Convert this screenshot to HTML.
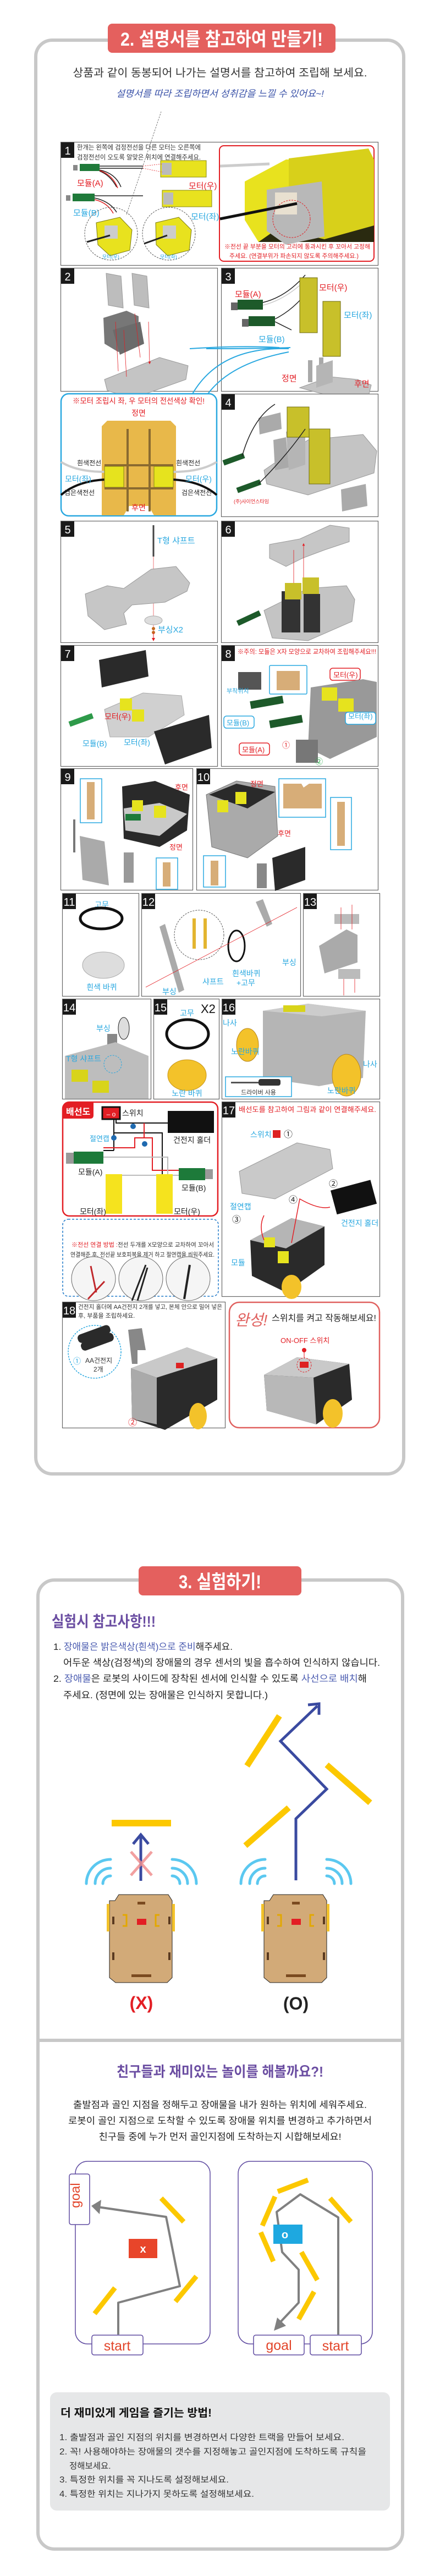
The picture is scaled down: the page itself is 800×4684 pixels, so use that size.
<!DOCTYPE html>
<html><head><meta charset="utf-8">
<style>
html,body{margin:0;padding:0;background:#fff;}
svg{display:block;}
text{font-family:"Liberation Sans","Noto Sans CJK KR",sans-serif;}
.b{font-weight:bold;}
</style></head>
<body>
<svg width="800" height="4684" viewBox="0 0 800 4684" xmlns="http://www.w3.org/2000/svg">
<defs>
<marker id="ar" markerWidth="6" markerHeight="6" refX="3" refY="3" orient="auto"><path d="M0,0 L6,3 L0,6z" fill="#e31e24"/></marker>
<marker id="ag" markerWidth="5" markerHeight="5" refX="2" refY="2.5" orient="auto"><path d="M0,0 L5,2.5 L0,5z" fill="#808080"/></marker>
</defs>

<!-- ========== SECTION 2 ========== -->
<rect x="65" y="73" width="669" height="2607" rx="30" fill="none" stroke="#c8c8c8" stroke-width="6"/>
<rect x="196" y="43" width="414" height="53" rx="8" fill="#e4605e"/>
<text x="403" y="83" text-anchor="middle" font-size="34" class="b" fill="#fff" textLength="368" lengthAdjust="spacingAndGlyphs">2. 설명서를 참고하여 만들기!</text>
<text x="400" y="139" text-anchor="middle" font-size="20" fill="#333" textLength="535" lengthAdjust="spacingAndGlyphs">상품과 같이 동봉되어 나가는 설명서를 참고하여 조립해 보세요.</text>
<text x="400" y="176" text-anchor="middle" font-size="17" font-style="italic" fill="#3a52a8" textLength="378" lengthAdjust="spacingAndGlyphs">설명서를 따라 조립하면서 성취감을 느낄 수 있어요~!</text>

<!-- Step 1 -->
<rect x="110.5" y="258.5" width="577" height="224" fill="#fff" stroke="#666" stroke-width="1.2"/>
<rect x="111" y="259" width="24" height="28" fill="#1a1a1a"/><text x="123" y="281" text-anchor="middle" font-size="20" fill="#fff">1</text>
<text x="140" y="272" font-size="12" fill="#333" textLength="225" lengthAdjust="spacingAndGlyphs">한개는 왼쪽에 검정전선을 다른 모터는 오른쪽에</text>
<text x="140" y="290" font-size="12" fill="#333" textLength="225" lengthAdjust="spacingAndGlyphs">검정전선이 오도록 알맞은 위치에 연결해주세요.</text>
<!-- module A -->
<rect x="133" y="300" width="8" height="10" fill="#888"/><rect x="145" y="298" width="36" height="13" fill="#1f7a3a"/>
<path d="M181,302 L260,302 M181,306 L260,306 M181,309 Q210,315 220,340 M181,311 Q200,318 212,340" stroke="#222" stroke-width="1.5" fill="none"/>
<path d="M181,310 Q205,318 214,342" stroke="#d22" stroke-width="1.5" fill="none"/>
<rect x="292" y="292" width="83" height="30" fill="#e8e21e" stroke="#8a8a10"/><rect x="294" y="296" width="18" height="22" fill="#bbb"/>
<path d="M260,302 L296,298 M260,306 L296,313" stroke="#e31e24" stroke-width="0.8" stroke-dasharray="2,2"/>
<text x="140" y="338" font-size="15" fill="#e31e24">모듈(A)</text>
<text x="343" y="343" font-size="15" fill="#e31e24">모터(우)</text>
<!-- module B -->
<rect x="120" y="355" width="8" height="10" fill="#888"/><rect x="132" y="352" width="40" height="14" fill="#1f7a3a"/>
<path d="M172,356 L260,356 M172,360 Q200,366 212,386" stroke="#222" stroke-width="1.5" fill="none"/>
<path d="M172,363 Q195,368 206,388" stroke="#d22" stroke-width="1.5" fill="none"/>
<rect x="295" y="346" width="90" height="30" fill="#e8e21e" stroke="#8a8a10"/><rect x="297" y="350" width="18" height="22" fill="#bbb"/>
<text x="133" y="392" font-size="15" fill="#29a8e0">모듈(B)</text>
<text x="347" y="399" font-size="15" fill="#29a8e0">모터(좌)</text>
<path d="M230,510 L293,323" stroke="#555" stroke-width="0.8" stroke-dasharray="3,2" transform="translate(0,-120)"/>
<circle cx="202" cy="425" r="48" fill="none" stroke="#555" stroke-dasharray="3,2"/>
<circle cx="307" cy="425" r="48" fill="none" stroke="#555" stroke-dasharray="3,2"/>
<polygon points="175,405 218,395 240,418 236,455 200,465 178,445" fill="#e8e21e" stroke="#7a7a10"/>
<rect x="190" y="410" width="24" height="24" fill="#ccc"/>
<polygon points="283,405 325,395 348,418 344,455 305,465 284,445" fill="#e8e21e" stroke="#7a7a10"/>
<rect x="296" y="410" width="24" height="24" fill="#ccc"/>
<path d="M158,440 L200,428 M262,443 L304,428" stroke="#222" stroke-width="3"/>
<text x="186" y="470" font-size="9" fill="#29a8e0">모터(우)</text><text x="291" y="470" font-size="9" fill="#29a8e0">모터(좌)</text>
<rect x="399" y="265" width="281" height="210" rx="8" fill="#fff" stroke="#e31e24" stroke-width="2"/>
<polygon points="445,330 520,290 680,290 680,440 470,440 445,400" fill="#e8e21e"/>
<polygon points="470,440 520,405 680,405 680,440" fill="#2a2a10"/>
<polygon points="525,288 670,270 680,290 680,410 590,435 525,420" fill="#d8d01a"/>
<polygon points="485,345 585,330 590,430 520,445 485,420" fill="#b8b8b8"/>
<rect x="500" y="350" width="40" height="40" fill="#e8e0d0"/>
<circle cx="530" cy="398" r="34" fill="none" stroke="#e31e24" stroke-dasharray="3,2"/>
<path d="M400,398 L540,370" stroke="#111" stroke-width="5"/><path d="M400,302 L490,298" stroke="#ccc" stroke-width="5"/>
<text x="408" y="452" font-size="11" fill="#e31e24" textLength="265" lengthAdjust="spacingAndGlyphs">※전선 끝 부분을 모터의 고리에 통과시킨 후 꼬아서 고정해</text>
<text x="417" y="469" font-size="11" fill="#e31e24" textLength="235" lengthAdjust="spacingAndGlyphs">주세요. (연결부위가 파손되지 않도록 주의해주세요.)</text>

<!-- Step 2 -->
<rect x="110.5" y="487.5" width="285" height="224" fill="#fff" stroke="#666" stroke-width="1.2"/>
<rect x="111" y="488" width="24" height="28" fill="#1a1a1a"/><text x="123" y="510" text-anchor="middle" font-size="20" fill="#fff">2</text>
<polygon points="193,497 220,502 224,560 197,555" fill="#bdbdbd" stroke="#999"/>
<polygon points="240,497 267,502 271,560 244,555" fill="#bdbdbd" stroke="#999"/>
<polygon points="188,578 230,565 252,575 252,625 215,640 190,625" fill="#777"/>
<polygon points="205,600 255,585 262,625 218,645" fill="#6b6b6b"/>
<polygon points="190,690 290,650 342,665 338,690 240,725 195,710" fill="#c4c4c4" stroke="#999"/>
<path d="M210,585 L215,675 M245,570 L255,650 M225,600 L230,685 M270,585 L272,660" stroke="#e31e24" stroke-width="0.8" marker-end="url(#ar)"/>

<!-- Step 3 -->
<rect x="402.5" y="487.5" width="285" height="224" fill="#fff" stroke="#666" stroke-width="1.2"/>
<rect x="403" y="488" width="24" height="28" fill="#1a1a1a"/><text x="415" y="510" text-anchor="middle" font-size="20" fill="#fff">3</text>
<text x="427" y="540" font-size="15" fill="#e31e24">모듈(A)</text>
<rect x="420" y="550" width="12" height="14" fill="#666"/><rect x="432" y="545" width="46" height="18" fill="#1d5a2a"/>
<rect x="440" y="580" width="12" height="14" fill="#666"/><rect x="452" y="575" width="48" height="18" fill="#1d5a2a"/>
<path d="M478,550 Q520,540 555,500 M500,580 Q540,560 570,515 M500,585 L530,600" stroke="#222" stroke-width="1.5" fill="none"/>
<path d="M478,555 Q520,545 560,505" stroke="#ccc" stroke-width="1.5" fill="none"/>
<text x="470" y="622" font-size="15" fill="#29a8e0">모듈(B)</text>
<rect x="545" y="505" width="32" height="100" fill="#c8c02a" stroke="#6d6a10"/>
<rect x="587" y="548" width="32" height="100" fill="#c8c02a" stroke="#6d6a10"/>
<text x="580" y="528" font-size="15" fill="#e31e24">모터(우)</text>
<text x="625" y="578" font-size="15" fill="#29a8e0">모터(좌)</text>
<polygon points="545,705 600,685 650,690 675,700 670,720 600,720" fill="#c4c4c4" stroke="#999"/>
<rect x="560" y="655" width="8" height="40" fill="#a9a9a9"/><rect x="580" y="650" width="8" height="40" fill="#a9a9a9"/>
<polygon points="575,665 605,655 605,695 575,705" fill="#b5b5b5"/>
<text x="644" y="703" font-size="15" fill="#e31e24">후면</text>
<text x="612" y="693" font-size="15" fill="#e31e24" transform="translate(-100,0)">정면</text>
<path d="M508,714 Q440,710 345,716 M528,714 Q470,716 375,716" stroke="#29a8e0" stroke-width="2" fill="none" transform="translate(0,-82)"/>
<path d="M525,634 Q400,630 350,716 M525,640 Q420,660 378,716" stroke="#29a8e0" stroke-width="2" fill="none"/>

<!-- Callout -->
<rect x="111" y="716" width="283" height="222" rx="14" fill="#fff" stroke="#29a8e0" stroke-width="2.5"/>
<text x="252" y="734" text-anchor="middle" font-size="14" fill="#e31e24" textLength="240" lengthAdjust="spacingAndGlyphs">※모터 조립시 좌, 우 모터의 전선색상 확인!</text>
<text x="252" y="756" text-anchor="middle" font-size="14" fill="#e31e24">정면</text>
<polygon points="185,775 195,765 310,765 320,775 320,937 280,937 270,920 235,920 225,937 185,937" fill="#e8b84a"/>
<path d="M111,840 Q140,858 190,858 M394,840 Q365,858 315,858" stroke="#ccc" stroke-width="4" fill="none"/>
<path d="M111,900 Q140,875 190,872 M394,900 Q365,875 315,872" stroke="#111" stroke-width="4" fill="none"/>
<rect x="190" y="848" width="35" height="38" fill="#e6e31e" stroke="#8a8a10"/>
<rect x="280" y="848" width="35" height="38" fill="#e6e31e" stroke="#8a8a10"/>
<path d="M232,780 L232,930 M272,780 L272,930 M190,846 L315,846 M190,888 L315,888" stroke="#8a6a30" stroke-width="4"/>
<text x="140" y="846" font-size="12" fill="#222">흰색전선</text><text x="320" y="846" font-size="12" fill="#222">흰색전선</text>
<text x="117" y="900" font-size="12" fill="#222">검은색전선</text><text x="330" y="900" font-size="12" fill="#222">검은색전선</text>
<text x="118" y="876" font-size="14" fill="#29a8e0">모터(좌)</text><text x="337" y="876" font-size="14" fill="#29a8e0">모터(우)</text>
<text x="252" y="928" text-anchor="middle" font-size="14" fill="#e31e24">후면</text>

<!-- Step 4 -->
<rect x="402.5" y="716.5" width="285" height="223" fill="#fff" stroke="#666" stroke-width="1.2"/>
<rect x="403" y="717" width="24" height="28" fill="#1a1a1a"/><text x="415" y="739" text-anchor="middle" font-size="20" fill="#fff">4</text>
<polygon points="480,855 560,800 660,790 685,820 680,860 560,900 485,880" fill="#c4c4c4" stroke="#999"/>
<polygon points="497,800 520,795 525,850 500,855" fill="#a9a9a9"/>
<polygon points="520,785 555,775 555,845 525,855" fill="#b5b5b5"/>
<polygon points="470,760 510,750 512,780 472,790" fill="#aaa"/>
<polygon points="620,890 665,880 668,920 622,930" fill="#aaa"/>
<rect x="522" y="740" width="40" height="55" fill="#c8c02a" stroke="#6d6a10"/>
<rect x="562" y="780" width="38" height="100" fill="#c8c02a" stroke="#6d6a10"/>
<rect x="405" y="830" width="40" height="10" fill="#1d5a2a" transform="rotate(-20 425 835)"/>
<rect x="430" y="880" width="45" height="10" fill="#1d5a2a" transform="rotate(-20 450 885)"/>
<path d="M440,830 Q460,760 500,735 M470,880 Q520,830 555,780" stroke="#222" stroke-width="1.5" fill="none"/>
<text x="425" y="915" font-size="9" fill="#e31e24">(주)사이언스타임</text>

<!-- Step 5 -->
<rect x="110.5" y="947.5" width="285" height="221" fill="#fff" stroke="#666" stroke-width="1.2"/>
<rect x="111" y="948" width="24" height="28" fill="#1a1a1a"/><text x="123" y="970" text-anchor="middle" font-size="20" fill="#fff">5</text>
<line x1="279" y1="955" x2="279" y2="1012" stroke="#444" stroke-width="3"/>
<line x1="279" y1="1012" x2="279" y2="1160" stroke="#e31e24" stroke-width="0.6"/>
<text x="286" y="988" font-size="15" fill="#29a8e0">T형 샤프트</text>
<polygon points="155,1080 195,1065 225,1070 275,1035 320,1030 345,1060 340,1075 300,1095 240,1100 225,1115 230,1135 190,1145 160,1120" fill="#c6c6c6" stroke="#999"/>
<ellipse cx="279" cy="1128" rx="16" ry="8" fill="#ddd" stroke="#aaa"/>
<circle cx="279" cy="1143" r="3" fill="#c46a20"/><circle cx="279" cy="1150" r="3" fill="#c46a20"/>
<text x="287" y="1150" font-size="15" fill="#29a8e0">부싱X2</text>
<path d="M279,1150 L279,1163" stroke="#e31e24" marker-end="url(#ar)"/>

<!-- Step 6 -->
<rect x="402.5" y="947.5" width="285" height="221" fill="#fff" stroke="#666" stroke-width="1.2"/>
<rect x="403" y="948" width="24" height="28" fill="#1a1a1a"/><text x="415" y="970" text-anchor="middle" font-size="20" fill="#fff">6</text>
<polygon points="490,990 545,980 600,955 635,960 635,985 590,1000 550,1015 520,1030 490,1015" fill="#c6c6c6" stroke="#999"/>
<polygon points="480,1110 560,1070 630,1065 645,1090 640,1130 560,1165 495,1160" fill="#c4c4c4" stroke="#999"/>
<rect x="512" y="1075" width="34" height="75" fill="#333"/><rect x="552" y="1080" width="30" height="70" fill="#333"/>
<rect x="518" y="1060" width="30" height="30" fill="#c8c02a"/><rect x="550" y="1050" width="30" height="30" fill="#c8c02a"/>
<path d="M534,1060 L534,1000 M552,1050 L552,990" stroke="#e31e24" stroke-width="0.8" marker-end="url(#ar)"/>
<rect x="430" y="1120" width="45" height="10" fill="#1d5a2a" transform="rotate(-25 450 1125)"/>

<!-- Step 7 -->
<rect x="110.5" y="1173.5" width="285" height="220" fill="#fff" stroke="#666" stroke-width="1.2"/>
<rect x="111" y="1174" width="24" height="28" fill="#1a1a1a"/><text x="123" y="1196" text-anchor="middle" font-size="20" fill="#fff">7</text>
<polygon points="180,1200 265,1182 270,1230 185,1250" fill="#2a2a2a"/>
<polygon points="190,1290 260,1260 330,1265 335,1300 270,1340 200,1340" fill="#d0d0d0" stroke="#aaa"/>
<polygon points="280,1330 380,1300 385,1360 300,1390" fill="#2a2a2a"/>
<rect x="218" y="1270" width="22" height="22" fill="#e6e31e"/><rect x="240" y="1290" width="22" height="22" fill="#e6e31e"/>
<rect x="125" y="1305" width="45" height="10" fill="#2e9a4a" transform="rotate(-20 145 1310)"/>
<text x="190" y="1308" font-size="14" fill="#e31e24">모터(우)</text>
<text x="150" y="1357" font-size="14" fill="#29a8e0">모듈(B)</text>
<text x="225" y="1355" font-size="14" fill="#29a8e0">모터(좌)</text>

<!-- Step 8 -->
<rect x="402.5" y="1173.5" width="285" height="220" fill="#fff" stroke="#666" stroke-width="1.2"/>
<rect x="403" y="1174" width="24" height="28" fill="#1a1a1a"/><text x="415" y="1196" text-anchor="middle" font-size="20" fill="#fff">8</text>
<text x="432" y="1189" font-size="12" fill="#e31e24" textLength="252" lengthAdjust="spacingAndGlyphs">※주의: 모듈은 X자 모양으로 교차하여 조립해주세요!!!</text>
<rect x="490" y="1210" width="68" height="52" rx="2" fill="#fff" stroke="#29a8e0" stroke-width="1.5"/>
<rect x="503" y="1220" width="42" height="35" fill="#d7ad78"/>
<rect x="433" y="1222" width="42" height="32" fill="#555"/>
<text x="412" y="1260" font-size="11" fill="#29a8e0">부착위치</text>
<rect x="600" y="1215" width="55" height="22" rx="5" fill="#fff" stroke="#e31e24" stroke-width="1.5"/><text x="606" y="1232" font-size="13" fill="#e31e24">모터(우)</text>
<polygon points="565,1250 660,1235 685,1240 685,1340 600,1380 560,1360" fill="#999"/>
<rect x="585" y="1250" width="28" height="24" fill="#e6e31e"/><rect x="615" y="1270" width="28" height="24" fill="#e6e31e"/>
<rect x="455" y="1270" width="60" height="14" fill="#1d5a2a" transform="rotate(-10 485 1277)"/>
<rect x="490" y="1305" width="60" height="14" fill="#1d5a2a" transform="rotate(-10 520 1312)"/>
<rect x="407" y="1302" width="55" height="22" rx="5" fill="#fff" stroke="#29a8e0" stroke-width="1.5"/><text x="412" y="1319" font-size="13" fill="#29a8e0">모듈(B)</text>
<rect x="435" y="1351" width="55" height="22" rx="5" fill="#fff" stroke="#e31e24" stroke-width="1.5"/><text x="440" y="1368" font-size="13" fill="#e31e24">모듈(A)</text>
<rect x="628" y="1295" width="55" height="22" rx="5" fill="#fff" stroke="#29a8e0" stroke-width="1.5"/><text x="633" y="1307" font-size="13" fill="#29a8e0">모터(좌)</text>
<rect x="538" y="1345" width="40" height="42" fill="#777"/>
<text x="513" y="1360" font-size="14" fill="#e31e24">①</text><text x="573" y="1390" font-size="14" fill="#2ab04a">②</text>

<!-- Step 9 -->
<rect x="110.5" y="1397.5" width="240" height="221" fill="#fff" stroke="#666" stroke-width="1.2"/>
<rect x="111" y="1398" width="24" height="28" fill="#1a1a1a"/><text x="123" y="1420" text-anchor="middle" font-size="20" fill="#fff">9</text>
<rect x="146" y="1416" width="39" height="80" fill="#fff" stroke="#29a8e0" stroke-width="1.5"/>
<rect x="158" y="1422" width="14" height="68" fill="#d7ad78"/>
<polygon points="222,1430 282,1420 345,1445 340,1510 290,1540 225,1525" fill="#2a2a2a"/>
<polygon points="225,1470 290,1460 340,1480 290,1520 228,1510" fill="#c9c9c9"/>
<rect x="240" y="1455" width="20" height="20" fill="#e6e31e"/><rect x="280" y="1465" width="22" height="22" fill="#e6e31e"/>
<rect x="228" y="1480" width="28" height="12" fill="#1d7a3a"/>
<polygon points="145,1520 190,1530 198,1610 150,1600" fill="#aaa"/>
<rect x="133" y="1490" width="4" height="60" fill="#777"/>
<rect x="225" y="1550" width="18" height="55" fill="#999"/>
<rect x="284" y="1560" width="39" height="57" fill="#fff" stroke="#29a8e0" stroke-width="1.5"/>
<rect x="296" y="1568" width="14" height="44" fill="#d7ad78"/>
<text x="318" y="1436" font-size="13" fill="#e31e24">후면</text><text x="308" y="1545" font-size="13" fill="#e31e24">정면</text>

<!-- Step 10 -->
<rect x="357.5" y="1397.5" width="330" height="221" fill="#fff" stroke="#666" stroke-width="1.2"/>
<rect x="358" y="1398" width="24" height="28" fill="#1a1a1a"/><text x="370" y="1420" text-anchor="middle" font-size="20" fill="#fff">10</text>
<polygon points="375,1445 430,1420 500,1430 505,1520 450,1560 385,1540" fill="#aaa" stroke="#777"/>
<polygon points="380,1445 430,1425 500,1440 450,1470" fill="#2a2a2a"/>
<rect x="395" y="1455" width="20" height="22" fill="#e6e31e"/><rect x="428" y="1440" width="20" height="22" fill="#e6e31e"/>
<text x="455" y="1430" font-size="13" fill="#e31e24">정면</text><text x="505" y="1520" font-size="13" fill="#e31e24">후면</text>
<rect x="507" y="1416" width="85" height="70" fill="#fff" stroke="#29a8e0" stroke-width="1.5"/>
<polygon points="515,1425 548,1425 552,1432 562,1425 585,1425 585,1470 515,1470" fill="#d7ad78"/>
<rect x="601" y="1450" width="38" height="95" fill="#fff" stroke="#29a8e0" stroke-width="1.5"/>
<rect x="613" y="1458" width="14" height="80" fill="#d7ad78"/>
<rect x="370" y="1556" width="40" height="57" fill="#fff" stroke="#29a8e0" stroke-width="1.5"/>
<rect x="383" y="1565" width="14" height="45" fill="#d7ad78"/>
<polygon points="495,1560 555,1540 555,1600 500,1620" fill="#2a2a2a"/>
<rect x="467" y="1570" width="18" height="45" fill="#888"/>

<!-- 11,12,13 -->
<rect x="113.5" y="1624.5" width="139" height="187" fill="#fff" stroke="#666" stroke-width="1.2"/>
<rect x="114" y="1625" width="24" height="28" fill="#1a1a1a"/><text x="126" y="1647" text-anchor="middle" font-size="20" fill="#fff">11</text>
<text x="185" y="1650" text-anchor="middle" font-size="14" fill="#29a8e0">고무</text>
<ellipse cx="184" cy="1670" rx="38" ry="19" fill="none" stroke="#111" stroke-width="5"/>
<ellipse cx="188" cy="1755" rx="38" ry="24" fill="#ddd" stroke="#aaa"/>
<text x="185" y="1800" text-anchor="middle" font-size="14" fill="#29a8e0">흰색 바퀴</text>
<rect x="257.5" y="1624.5" width="289" height="187" fill="#fff" stroke="#666" stroke-width="1.2"/>
<rect x="258" y="1625" width="24" height="28" fill="#1a1a1a"/><text x="270" y="1647" text-anchor="middle" font-size="20" fill="#fff">12</text>
<circle cx="362" cy="1700" r="45" fill="none" stroke="#555" stroke-dasharray="3,2"/>
<rect x="350" y="1670" width="6" height="55" fill="#e3b530"/><rect x="370" y="1670" width="6" height="55" fill="#e3b530"/>
<polygon points="290,1735 300,1730 335,1850 325,1855" fill="#aaa" transform="translate(0,-50)"/>
<polygon points="465,1640 478,1635 495,1680 485,1685" fill="#aaa"/>
<ellipse cx="430" cy="1720" rx="15" ry="28" fill="#fff" stroke="#111" stroke-width="3"/>
<line x1="265" y1="1795" x2="540" y2="1650" stroke="#e31e24" stroke-width="0.8"/>
<text x="368" y="1790" font-size="14" fill="#29a8e0">샤프트</text>
<text x="422" y="1775" font-size="14" fill="#29a8e0">흰색바퀴</text><text x="430" y="1792" font-size="14" fill="#29a8e0">+고무</text>
<text x="295" y="1808" font-size="14" fill="#29a8e0">부싱</text><text x="513" y="1755" font-size="14" fill="#29a8e0">부싱</text>
<rect x="551.5" y="1624.5" width="139" height="187" fill="#fff" stroke="#666" stroke-width="1.2"/>
<rect x="552" y="1625" width="24" height="28" fill="#1a1a1a"/><text x="564" y="1647" text-anchor="middle" font-size="20" fill="#fff">13</text>
<rect x="608" y="1662" width="45" height="18" fill="#bbb"/>
<polygon points="580,1720 630,1690 650,1700 650,1750 590,1770" fill="#aaa"/>
<rect x="615" y="1762" width="40" height="18" fill="#bbb"/>
<path d="M620,1690 L620,1650 M640,1690 L640,1645 M625,1780 L625,1810 M645,1780 L645,1805" stroke="#e31e24" stroke-width="0.8"/>

<!-- 14,15,16 -->
<rect x="113.5" y="1816.5" width="161" height="182" fill="#fff" stroke="#666" stroke-width="1.2"/>
<rect x="114" y="1817" width="24" height="28" fill="#1a1a1a"/><text x="126" y="1839" text-anchor="middle" font-size="20" fill="#fff">14</text>
<text x="175" y="1875" font-size="14" fill="#29a8e0">부싱</text>
<rect x="195" y="1880" width="18" height="40" fill="#888"/>
<ellipse cx="225" cy="1870" rx="10" ry="20" fill="#ddd" stroke="#222"/>
<polygon points="118,1920 210,1895 270,1920 270,1998 118,1998" fill="#bdbdbd"/>
<rect x="130" y="1945" width="30" height="22" fill="#d8d41a"/><rect x="168" y="1965" width="30" height="22" fill="#d8d41a"/>
<circle cx="205" cy="1935" r="16" fill="none" stroke="#29a8e0" stroke-dasharray="3,2"/>
<text x="120" y="1930" font-size="14" fill="#29a8e0">T형 샤프트</text>
<rect x="279.5" y="1816.5" width="119" height="182" fill="#fff" stroke="#666" stroke-width="1.2"/>
<rect x="280" y="1817" width="24" height="28" fill="#1a1a1a"/><text x="292" y="1839" text-anchor="middle" font-size="20" fill="#fff">15</text>
<text x="365" y="1842" font-size="22" fill="#111">X2</text>
<text x="340" y="1847" text-anchor="middle" font-size="14" fill="#29a8e0">고무</text>
<ellipse cx="341" cy="1880" rx="38" ry="26" fill="none" stroke="#111" stroke-width="5"/>
<ellipse cx="340" cy="1955" rx="35" ry="28" fill="#f3c22a" stroke="#c8961a"/>
<text x="340" y="1993" text-anchor="middle" font-size="14" fill="#29a8e0">노란 바퀴</text>
<rect x="403.5" y="1816.5" width="287" height="182" fill="#fff" stroke="#666" stroke-width="1.2"/>
<rect x="404" y="1817" width="24" height="28" fill="#1a1a1a"/><text x="416" y="1839" text-anchor="middle" font-size="20" fill="#fff">16</text>
<polygon points="478,1838 560,1825 665,1838 660,1960 580,1975 478,1960" fill="#b5b5b5"/>
<polygon points="478,1838 560,1825 665,1838 585,1848" fill="#ccc"/>
<rect x="515" y="1828" width="40" height="12" fill="#d8d41a"/>
<ellipse cx="450" cy="1900" rx="20" ry="30" fill="#f3c22a" stroke="#b8861a"/>
<ellipse cx="630" cy="1955" rx="26" ry="38" fill="#f3c22a" stroke="#b8861a"/>
<text x="405" y="1960" font-size="14" fill="#29a8e0" transform="translate(0,-95)">나사</text>
<text x="420" y="1924" font-size="14" fill="#29a8e0" transform="translate(0,-7)">노란바퀴</text>
<text x="660" y="1940" font-size="14" fill="#29a8e0">나사</text>
<text x="595" y="1988" font-size="14" fill="#29a8e0">노란바퀴</text>
<rect x="410" y="1958" width="120" height="36" fill="#fff" stroke="#29a8e0" stroke-width="1.5"/>
<rect x="420" y="1967" width="50" height="3" fill="#555"/><rect x="470" y="1962" width="40" height="12" rx="4" fill="#333"/>
<text x="470" y="1990" text-anchor="middle" font-size="11" fill="#333">드라이버 사용</text>

<!-- Wiring diagram -->
<rect x="114" y="2004" width="282" height="207" rx="12" fill="#fff" stroke="#e31e24" stroke-width="2.5"/>
<path d="M114,2016 Q114,2004 126,2004 L170,2004 L170,2028 Q170,2034 164,2034 L114,2034z" fill="#e31e24"/>
<text x="120" y="2027" font-size="16" class="b" fill="#fff">배선도</text>
<rect x="186" y="2013" width="32" height="22" fill="#e31e24" stroke="#111" stroke-width="3"/>
<text x="202" y="2030" text-anchor="middle" font-size="12" fill="#fff">– o</text>
<text x="222" y="2029" font-size="14" fill="#222">스위치</text>
<rect x="305" y="2020" width="84" height="40" fill="#111"/>
<text x="315" y="2078" font-size="14" fill="#222">건전지 홀더</text>
<path d="M207,2035 L207,2092 M211,2035 L211,2042 L305,2042 M207,2060 L295,2060 L295,2160 M207,2092 L188,2092" stroke="#111" stroke-width="2" fill="none"/>
<path d="M262,2042 L262,2069 L245,2069 L245,2087 L188,2087 M262,2069 L277,2069 L277,2128 L325,2128" stroke="#e31e24" stroke-width="2" fill="none"/>
<path d="M188,2104 L305,2104 L305,2163 M200,2137 L325,2137 M215,2143 L215,2163 M200,2143 L200,2163" stroke="#bbb" stroke-width="2" fill="none"/>
<circle cx="242" cy="2048" r="5" fill="#1f6ab0"/><circle cx="207" cy="2069" r="5" fill="#1f6ab0"/><circle cx="263" cy="2080" r="5" fill="#1f6ab0"/>
<text x="163" y="2075" font-size="13" fill="#29a8e0">절연캡</text>
<rect x="120" y="2096" width="14" height="20" fill="#999"/><rect x="134" y="2094" width="54" height="22" fill="#1d7a3a"/>
<text x="142" y="2136" font-size="14" fill="#222">모듈(A)</text>
<rect x="325" y="2124" width="48" height="22" fill="#1d7a3a"/><rect x="373" y="2126" width="14" height="18" fill="#999"/>
<text x="330" y="2165" font-size="14" fill="#222">모듈(B)</text>
<rect x="192" y="2163" width="30" height="72" fill="#f5e31e" transform="translate(0,-28)"/>
<rect x="284" y="2163" width="30" height="72" fill="#f5e31e" transform="translate(0,-28)"/>
<text x="145" y="2228" font-size="14" fill="#222" transform="translate(0,-20)">모터(좌)</text>
<text x="316" y="2228" font-size="14" fill="#222" transform="translate(0,-20)">모터(우)</text>

<!-- dotted blue -->
<rect x="114" y="2217" width="283" height="140" rx="10" fill="#fff" stroke="#1f78c8" stroke-width="1.5" stroke-dasharray="4,3"/>
<text x="130" y="2267" font-size="11" fill="#e31e24">※전선 연결 방법 :</text>
<text x="214" y="2267" font-size="11" fill="#333" textLength="175" lengthAdjust="spacingAndGlyphs">전선 두개를 X모양으로 교차하여 꼬아서</text>
<text x="128" y="2285" font-size="11" fill="#333" textLength="262" lengthAdjust="spacingAndGlyphs">연결해준 후, 전선끝 보호피복을 제거 하고 절연캡을 씌워주세요.</text>
<circle cx="170" cy="2347" r="40" fill="#f5f5f5" stroke="#666" transform="translate(0,-22)"/>
<circle cx="256" cy="2347" r="40" fill="#f5f5f5" stroke="#666" transform="translate(0,-22)"/>
<circle cx="342" cy="2347" r="40" fill="#f5f5f5" stroke="#666" transform="translate(0,-22)"/>
<path d="M165,2302 L175,2350 M190,2330 L160,2362" stroke="#c0282c" stroke-width="3"/>
<path d="M265,2300 L240,2365 M268,2305 L250,2365" stroke="#222" stroke-width="3"/>
<path d="M345,2300 L335,2362" stroke="#222" stroke-width="4"/>

<!-- Step 17 -->
<rect x="403.5" y="2003.5" width="287" height="354" fill="#fff" stroke="#666" stroke-width="1.2"/>
<rect x="404" y="2004" width="24" height="28" fill="#1a1a1a"/><text x="416" y="2026" text-anchor="middle" font-size="20" fill="#fff">17</text>
<text x="434" y="2022" font-size="13" fill="#e31e24" textLength="250" lengthAdjust="spacingAndGlyphs">배선도를 참고하여 그림과 같이 연결해주세요.</text>
<text x="455" y="2068" font-size="14" fill="#29a8e0">스위치</text>
<rect x="496" y="2055" width="14" height="14" fill="#d22"/>
<text x="516" y="2068" font-size="16" fill="#222">①</text>
<polygon points="435,2130 540,2078 600,2090 605,2125 500,2180 440,2170" fill="#c9c9c9" stroke="#999"/>
<rect x="605" y="2155" width="75" height="45" fill="#111" transform="rotate(-15 640 2175)"/>
<text x="598" y="2158" font-size="16" fill="#222">②</text><text x="525" y="2187" font-size="16" fill="#222">④</text>
<text x="422" y="2223" font-size="16" fill="#222">③</text>
<text x="418" y="2199" font-size="14" fill="#29a8e0">절연캡</text>
<text x="620" y="2229" font-size="14" fill="#29a8e0">건전지 홀더</text>
<text x="420" y="2301" font-size="14" fill="#29a8e0">모듈</text>
<polygon points="455,2255 530,2215 590,2230 590,2300 520,2350 458,2320" fill="#2a2a2a"/>
<polygon points="455,2255 530,2215 590,2230 520,2270" fill="#b5b5b5"/>
<rect x="480" y="2250" width="20" height="18" fill="#e6e31e"/><rect x="505" y="2275" width="20" height="22" fill="#e6e31e"/>
<ellipse cx="530" cy="2345" rx="18" ry="22" fill="#f3c22a" transform="translate(0,-5)"/>
<path d="M600,2195 Q580,2200 545,2180 L530,2260 M480,2210 Q470,2230 480,2255" stroke="#e31e24" stroke-width="1.5" fill="none"/>

<!-- Step 18 -->
<rect x="113.5" y="2367.5" width="296" height="229" fill="#fff" stroke="#666" stroke-width="1.2"/>
<rect x="114" y="2368" width="24" height="28" fill="#1a1a1a"/><text x="126" y="2390" text-anchor="middle" font-size="20" fill="#fff">18</text>
<text x="142" y="2380" font-size="11" fill="#333" textLength="262" lengthAdjust="spacingAndGlyphs">건전지 홀더에 AA건전지 2개를 넣고, 본체 안으로 밀어 넣은</text>
<text x="142" y="2396" font-size="11" fill="#333">후, 부품을 조립하세요.</text>
<circle cx="172" cy="2458" r="48" fill="none" stroke="#29a8e0" stroke-width="1.5" stroke-dasharray="3,2"/>
<rect x="140" y="2418" width="62" height="16" rx="7" fill="#2a2a2a" transform="rotate(-20 170 2426)"/>
<rect x="146" y="2432" width="62" height="16" rx="7" fill="#2a2a2a" transform="rotate(-20 176 2440)"/>
<text x="133" y="2480" font-size="14" fill="#29a8e0">①</text><text x="155" y="2478" font-size="12" fill="#333">AA건전지</text>
<text x="170" y="2494" font-size="12" fill="#333">2개</text>
<polygon points="238,2488 340,2450 395,2470 395,2545 300,2600 240,2580" fill="#2a2a2a"/>
<polygon points="238,2488 340,2450 395,2470 285,2505" fill="#c9c9c9"/>
<polygon points="238,2488 285,2505 285,2590 240,2580" fill="#aaa"/>
<rect x="320" y="2478" width="14" height="10" fill="#d22"/>
<polygon points="233,2438 258,2435 265,2475 250,2475 250,2500 240,2500" fill="#888" transform="translate(0,-20)"/>
<ellipse cx="360" cy="2575" rx="16" ry="24" fill="#f3c22a"/>
<text x="233" y="2602" font-size="16" fill="#e31e24" transform="translate(0,-10)">②</text>

<!-- 완성 -->
<rect x="417" y="2368" width="273" height="228" rx="18" fill="#fff" stroke="#e0605e" stroke-width="2.5"/>
<text x="427" y="2410" font-size="28" font-style="italic" fill="#e0605e">완성!</text>
<text x="494" y="2402" font-size="16" fill="#222">스위치를 켜고 작동해보세요!</text>
<text x="510" y="2490" font-size="13" fill="#e31e24" transform="translate(0,-48)">ON-OFF 스위치</text>
<circle cx="553" cy="2455" r="4" fill="#e31e24"/><line x1="553" y1="2455" x2="553" y2="2472" stroke="#e31e24"/>
<polygon points="480,2500 540,2468 635,2480 640,2545 575,2590 485,2565" fill="#2a2a2a"/>
<polygon points="480,2500 540,2468 635,2480 570,2505" fill="#c9c9c9"/>
<polygon points="480,2500 570,2505 575,2590 485,2565" fill="#b8b8b8"/>
<circle cx="553" cy="2482" r="13" fill="none" stroke="#e31e24" stroke-dasharray="3,2"/>
<rect x="545" y="2476" width="16" height="11" fill="#d22"/>
<ellipse cx="605" cy="2570" rx="18" ry="26" fill="#f3c22a"/>

<!-- ========== SECTION 3 ========== -->
<rect x="69" y="2873" width="663" height="1762" rx="30" fill="none" stroke="#c8c8c8" stroke-width="6"/>
<rect x="252" y="2848" width="296" height="53" rx="8" fill="#e4605e"/>
<text x="400" y="2888" text-anchor="middle" font-size="34" class="b" fill="#fff" textLength="150" lengthAdjust="spacingAndGlyphs">3. 실험하기!</text>

<text x="94" y="2958" font-size="28" class="b" fill="#6b4ea2" textLength="189" lengthAdjust="spacingAndGlyphs">실험시 참고사항!!!</text>
<text x="97" y="3000" font-size="17" fill="#222">1. <tspan fill="#4a5bb0">장애물은 밝은색상(흰색)으로 준비</tspan>해주세요.</text>
<text x="115" y="3029" font-size="17" fill="#222" textLength="576" lengthAdjust="spacingAndGlyphs">어두운 색상(검정색)의 장애물의 경우 센서의 빛을 흡수하여 인식하지 않습니다.</text>
<text x="97" y="3058" font-size="17" fill="#222" textLength="570" lengthAdjust="spacingAndGlyphs">2. <tspan fill="#4a5bb0">장애물</tspan>은 로봇의 사이드에 장착된 센서에 인식할 수 있도록 <tspan fill="#4a5bb0">사선으로 배치</tspan>해</text>
<text x="115" y="3088" font-size="17" fill="#222" textLength="372" lengthAdjust="spacingAndGlyphs">주세요. (정면에 있는 장애물은 인식하지 못합니다.)</text>

<!-- Left robot diagram -->
<rect x="203" y="3309" width="108" height="12" fill="#fcc800"/>
<path d="M256,3420 L256,3340" stroke="#3a4aa0" stroke-width="5"/>
<path d="M242,3353 L256,3336 L270,3353" stroke="#3a4aa0" stroke-width="5" fill="none"/>
<path d="M238,3367 L276,3410 M276,3367 L238,3410" stroke="#f09090" stroke-width="5" opacity="0.85"/>
<!-- Right robot path -->
<path d="M538,3419 L538,3307 L594,3253 L510,3166 L577,3102" stroke="#3a4aa0" stroke-width="5" fill="none" stroke-linejoin="miter"/>
<path d="M560,3100 L580,3098 L580,3118" stroke="#3a4aa0" stroke-width="5" fill="none"/>
<path d="M508,3120 L449,3211 M594,3209 L673,3278 M525,3287 L446,3356" stroke="#fcc800" stroke-width="11"/>

<!-- Wifi arcs -->
<g fill="none" stroke="#5bc8f0" stroke-width="5" stroke-linecap="round">
<path d="M187,3425 A14,14 0 0 1 201,3411"/><path d="M173,3425 A28,28 0 0 1 201,3397"/><path d="M157,3425 A44,44 0 0 1 201,3381"/>
<path d="M327,3425 A14,14 0 0 0 313,3411"/><path d="M341,3425 A28,28 0 0 0 313,3397"/><path d="M357,3425 A44,44 0 0 0 313,3381"/>
<path d="M468,3425 A14,14 0 0 1 482,3411"/><path d="M454,3425 A28,28 0 0 1 482,3397"/><path d="M438,3425 A44,44 0 0 1 482,3381"/>
<path d="M608,3425 A14,14 0 0 0 594,3411"/><path d="M622,3425 A28,28 0 0 0 594,3397"/><path d="M638,3425 A44,44 0 0 0 594,3381"/>
</g>

<!-- robots -->
<g>
<polygon points="211,3456 219,3456" stroke="#333"/>
<polygon points="209,3456 216,3445 306,3445 313,3456 313,3596 304,3605 210,3605 199,3596 199,3456" fill="#d2aa78" stroke="#222" stroke-width="1"/>
<rect x="194" y="3462" width="5" height="50" fill="#f3c22a"/><rect x="313" y="3462" width="5" height="50" fill="#f3c22a"/>
<rect x="250" y="3458" width="14" height="5" fill="#7a4a20"/><rect x="239" y="3590" width="36" height="5" fill="#7a4a20"/>
<rect x="204" y="3485" width="4" height="14" fill="#5a3a20"/><rect x="306" y="3485" width="4" height="14" fill="#5a3a20"/>
<rect x="204" y="3550" width="4" height="14" fill="#5a3a20"/><rect x="306" y="3550" width="4" height="14" fill="#5a3a20"/>
<path d="M223,3482 L230,3482 L230,3502 L223,3502" stroke="#e3a800" stroke-width="3" fill="none"/>
<path d="M290,3482 L283,3482 L283,3502 L290,3502" stroke="#e3a800" stroke-width="3" fill="none"/>
<rect x="249" y="3489" width="17" height="11" fill="#e31e24"/>
</g>
<g transform="translate(281,0)">
<polygon points="209,3456 216,3445 306,3445 313,3456 313,3596 304,3605 210,3605 199,3596 199,3456" fill="#d2aa78" stroke="#222" stroke-width="1"/>
<rect x="194" y="3462" width="5" height="50" fill="#f3c22a"/><rect x="313" y="3462" width="5" height="50" fill="#f3c22a"/>
<rect x="250" y="3458" width="14" height="5" fill="#7a4a20"/><rect x="239" y="3590" width="36" height="5" fill="#7a4a20"/>
<rect x="204" y="3485" width="4" height="14" fill="#5a3a20"/><rect x="306" y="3485" width="4" height="14" fill="#5a3a20"/>
<rect x="204" y="3550" width="4" height="14" fill="#5a3a20"/><rect x="306" y="3550" width="4" height="14" fill="#5a3a20"/>
<path d="M223,3482 L230,3482 L230,3502 L223,3502" stroke="#e3a800" stroke-width="3" fill="none"/>
<path d="M290,3482 L283,3482 L283,3502 L290,3502" stroke="#e3a800" stroke-width="3" fill="none"/>
<rect x="249" y="3489" width="17" height="11" fill="#e31e24"/>
</g>
<text x="257" y="3653" text-anchor="middle" font-size="32" class="b" fill="#e31e24">(X)</text>
<text x="538" y="3654" text-anchor="middle" font-size="32" class="b" fill="#222">(O)</text>

<line x1="69" y1="3710" x2="732" y2="3710" stroke="#c8c8c8" stroke-width="6"/>

<text x="400" y="3776" text-anchor="middle" font-size="26" class="b" fill="#6b4ea2" textLength="376" lengthAdjust="spacingAndGlyphs">친구들과 재미있는 놀이를 해볼까요?!</text>
<text x="400" y="3833" text-anchor="middle" font-size="17" fill="#222" textLength="534" lengthAdjust="spacingAndGlyphs">출발점과 골인 지점을 정해두고 장애물을 내가 원하는 위치에 세워주세요.</text>
<text x="400" y="3862" text-anchor="middle" font-size="17" fill="#222" textLength="552" lengthAdjust="spacingAndGlyphs">로봇이 골인 지점으로 도착할 수 있도록 장애물 위치를 변경하고 추가하면서</text>
<text x="400" y="3891" text-anchor="middle" font-size="17" fill="#222" textLength="441" lengthAdjust="spacingAndGlyphs">친구들 중에 누가 먼저 골인지점에 도착하는지 시합해보세요!</text>

<!-- boards -->
<rect x="137" y="3930" width="245" height="332" rx="22" fill="none" stroke="#5e4aa0" stroke-width="1.5"/>
<rect x="433" y="3930" width="244" height="332" rx="22" fill="none" stroke="#5e4aa0" stroke-width="1.5"/>
<g stroke="#fcc800" stroke-width="9">
<path d="M293,3997 L334,4040 M319,4185 L357,4139 M172,4207 L209,4160"/>
<path d="M505,3985 L560,3964 M477,4047 L500,3994 M474,4059 L497,4112 M548,4095 L577,4146 M600,3997 L638,4040 M571,4167 L543,4217"/>
</g>
<path d="M215,4245 L215,4187 L327,4157 L302,4031 L178,4013" stroke="#808080" stroke-width="4" fill="none" stroke-linejoin="round"/>
<polygon points="166,4011 184,4000 181,4026" fill="#808080"/>
<path d="M615,4245 L615,4032 L546,3990 L503,4022 L513,4095 L543,4127 L543,4187 L510,4222" stroke="#808080" stroke-width="4" fill="none" stroke-linejoin="round"/>
<polygon points="498,4238 504,4214 520,4229" fill="#808080"/>
<rect x="234" y="4071" width="52" height="35" fill="#e8452a"/><text x="260" y="4096" text-anchor="middle" font-size="20" class="b" fill="#fff">x</text>
<rect x="497" y="4045" width="53" height="35" fill="#1ea8e0"/><text x="518" y="4070" text-anchor="middle" font-size="20" class="b" fill="#fff">o</text>
<rect x="126" y="3953" width="37" height="92" rx="4" fill="#fff" stroke="#5e4aa0" stroke-width="1.5"/>
<text x="152" y="3999" text-anchor="middle" font-size="24" fill="#e2452a" transform="rotate(-90 145 3999)">goal</text>
<rect x="167" y="4246" width="93" height="36" rx="4" fill="#fff" stroke="#5e4aa0" stroke-width="1.5"/>
<text x="213" y="4274" text-anchor="middle" font-size="25" fill="#e2452a">start</text>
<rect x="461" y="4246" width="92" height="36" rx="4" fill="#fff" stroke="#5e4aa0" stroke-width="1.5"/>
<text x="507" y="4273" text-anchor="middle" font-size="25" fill="#e2452a">goal</text>
<rect x="564" y="4246" width="93" height="36" rx="4" fill="#fff" stroke="#5e4aa0" stroke-width="1.5"/>
<text x="610" y="4274" text-anchor="middle" font-size="25" fill="#e2452a">start</text>

<!-- tips -->
<rect x="91" y="4350" width="618" height="215" rx="12" fill="#e6e7e8"/>
<text x="110" y="4394" font-size="20" class="b" fill="#111" textLength="275" lengthAdjust="spacingAndGlyphs">더 재미있게 게임을 즐기는 방법!</text>
<text x="108" y="4437" font-size="15.5" fill="#333" textLength="518" lengthAdjust="spacingAndGlyphs">1. 출발점과 골인 지점의 위치를 변경하면서 다양한 트랙을 만들어 보세요.</text>
<text x="108" y="4463" font-size="15.5" fill="#333" textLength="558" lengthAdjust="spacingAndGlyphs">2. 꼭! 사용해야하는 장애물의 갯수를 지정해놓고 골인지점에 도착하도록 규칙을</text>
<text x="126" y="4489" font-size="15.5" fill="#333">정해보세요.</text>
<text x="108" y="4514" font-size="15.5" fill="#333" textLength="308" lengthAdjust="spacingAndGlyphs">3. 특정한 위치를 꼭 지나도록 설정해보세요.</text>
<text x="108" y="4540" font-size="15.5" fill="#333" textLength="354" lengthAdjust="spacingAndGlyphs">4. 특정한 위치는 지나가지 못하도록 설정해보세요.</text>
</svg>
</body></html>
